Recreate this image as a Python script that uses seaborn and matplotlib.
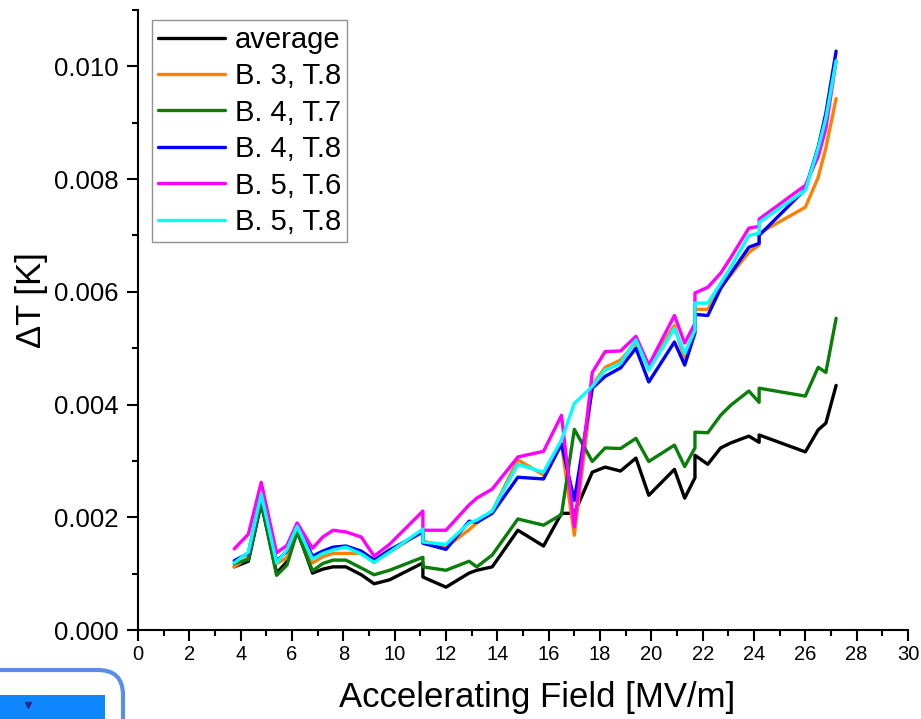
import numpy as np
import pandas as pd
import matplotlib
matplotlib.use("Agg")
import matplotlib.pyplot as plt
import seaborn as sns
from matplotlib.ticker import MultipleLocator, FormatStrFormatter
from matplotlib.patches import FancyBboxPatch, Rectangle
from matplotlib.transforms import IdentityTransform

# Accelerating field steps [MV/m] (repeated values mark restarts at the same field)
field = [3.75, 4.3, 4.8, 5.4, 5.8, 6.2, 6.8, 7.2, 7.6, 8.1, 8.7, 9.2, 9.8,
         11.1, 11.1, 12.0, 12.9, 13.2, 13.8, 14.8, 15.8, 16.5, 17.0, 17.7,
         18.2, 18.8, 19.4, 19.9, 20.9, 21.3, 21.7, 21.7, 22.2, 22.7, 23.1,
         23.8, 24.2, 24.2, 26.0, 26.5, 26.8, 27.2]

# Temperature rise [K] per sensor
average = [0.00112, 0.00122, 0.00225, 0.00101, 0.00121, 0.00177, 0.00101,
           0.00108, 0.00112, 0.00112, 0.00098, 0.00082, 0.00089, 0.00119,
           0.00094, 0.00076, 0.00101, 0.00106, 0.00112, 0.00177, 0.00149,
           0.00207, 0.00207, 0.00280, 0.00289, 0.00282, 0.00305, 0.00239,
           0.00285, 0.00234, 0.00270, 0.00310, 0.00294, 0.00323, 0.00332,
           0.00344, 0.00333, 0.00346, 0.00316, 0.00355, 0.00367, 0.00434]
b3_t8 = [0.00112, 0.00129, 0.00236, 0.00118, 0.00128, 0.00182, 0.00119,
         0.00130, 0.00136, 0.00136, 0.00136, 0.00120, 0.00138, 0.00175,
         0.00158, 0.00147, 0.00178, 0.00190, 0.00211, 0.00302, 0.00275,
         0.00330, 0.00168, 0.00434, 0.00466, 0.00479, 0.00510, 0.00470,
         0.00540, 0.00480, 0.00535, 0.00569, 0.00569, 0.00608, 0.00630,
         0.00670, 0.00683, 0.00704, 0.00750, 0.00803, 0.00855, 0.00943]
b4_t7 = [0.00118, 0.00125, 0.00228, 0.00097, 0.00115, 0.00174, 0.00105,
         0.00118, 0.00124, 0.00124, 0.00110, 0.00098, 0.00106, 0.00129,
         0.00112, 0.00106, 0.00122, 0.00112, 0.00133, 0.00197, 0.00186,
         0.00205, 0.00356, 0.00299, 0.00323, 0.00322, 0.00340, 0.00299,
         0.00328, 0.00290, 0.00323, 0.00351, 0.00350, 0.00381, 0.00399,
         0.00424, 0.00404, 0.00429, 0.00415, 0.00466, 0.00457, 0.00553]
b4_t8 = [0.00123, 0.00136, 0.00240, 0.00122, 0.00140, 0.00187, 0.00131,
         0.00140, 0.00147, 0.00149, 0.00140, 0.00124, 0.00142, 0.00174,
         0.00154, 0.00143, 0.00193, 0.00191, 0.00207, 0.00271, 0.00268,
         0.00330, 0.00230, 0.00429, 0.00450, 0.00465, 0.00500, 0.00440,
         0.00511, 0.00470, 0.00527, 0.00560, 0.00558, 0.00606, 0.00633,
         0.00679, 0.00686, 0.00700, 0.00782, 0.00857, 0.00917, 0.01027]
b5_t6 = [0.00144, 0.00170, 0.00262, 0.00137, 0.00150, 0.00190, 0.00145,
         0.00165, 0.00177, 0.00174, 0.00165, 0.00131, 0.00152, 0.00211,
         0.00177, 0.00177, 0.00222, 0.00234, 0.00250, 0.00307, 0.00317,
         0.00381, 0.00183, 0.00457, 0.00494, 0.00495, 0.00521, 0.00470,
         0.00558, 0.00509, 0.00544, 0.00598, 0.00608, 0.00633, 0.00661,
         0.00713, 0.00716, 0.00729, 0.00789, 0.00840, 0.00890, 0.01010]
b5_t8 = [0.00119, 0.00138, 0.00241, 0.00119, 0.00142, 0.00184, 0.00126,
         0.00136, 0.00142, 0.00147, 0.00135, 0.00120, 0.00138, 0.00179,
         0.00156, 0.00152, 0.00190, 0.00195, 0.00211, 0.00294, 0.00280,
         0.00337, 0.00402, 0.00432, 0.00461, 0.00473, 0.00515, 0.00461,
         0.00535, 0.00491, 0.00532, 0.00580, 0.00580, 0.00615, 0.00644,
         0.00700, 0.00704, 0.00723, 0.00780, 0.00855, 0.00908, 0.01010]

series_names = ["average", "B. 3, T.8", "B. 4, T.7", "B. 4, T.8", "B. 5, T.6", "B. 5, T.8"]
series_values = [average, b3_t8, b4_t7, b4_t8, b5_t6, b5_t8]
colors = ["#000000", "#FF8000", "#0A7D0A", "#0000FF", "#FF00FF", "#00FFFF"]

frames = []
for name, vals in zip(series_names, series_values):
    frames.append(pd.DataFrame({"field": field, "dT": vals, "sensor": name}))
df = pd.concat(frames, ignore_index=True)

sns.set_theme(style="ticks")
plt.rcParams["font.family"] = ["Liberation Sans", "DejaVu Sans"]
plt.rcParams.update({"text.color": "black", "axes.labelcolor": "black",
                     "xtick.color": "black", "ytick.color": "black",
                     "xtick.labelcolor": "black", "ytick.labelcolor": "black"})

W, H = 921, 719
fig = plt.figure(figsize=(W / 100, H / 100), dpi=100)
ax = fig.add_axes([138 / W, (H - 630) / H, 770 / W, 620 / H])

sns.lineplot(data=df, x="field", y="dT", hue="sensor", hue_order=series_names,
             palette=dict(zip(series_names, colors)), estimator=None,
             sort=False, units="sensor", linewidth=2.4, ax=ax)

ax.set_xlim(0, 30)
ax.set_ylim(0, 0.011)
ax.xaxis.set_major_locator(MultipleLocator(2))
ax.xaxis.set_minor_locator(MultipleLocator(1))
ax.yaxis.set_major_locator(MultipleLocator(0.002))
ax.yaxis.set_minor_locator(MultipleLocator(0.001))
ax.yaxis.set_major_formatter(FormatStrFormatter("%.3f"))
ax.tick_params(axis="both", which="major", direction="out", length=8, width=1.5,
               color="black", labelcolor="black")
ax.tick_params(axis="both", which="minor", direction="out", length=4, width=1.5,
               color="black")
ax.tick_params(axis="x", which="major", labelsize=14.5, pad=3)
ax.tick_params(axis="y", which="major", labelsize=18.5, pad=6)

for side in ["top", "right"]:
    ax.spines[side].set_visible(False)
for side in ["left", "bottom"]:
    ax.spines[side].set_linewidth(1.5)
    ax.spines[side].set_color("black")

ax.set_xlabel("Accelerating Field [MV/m]", fontsize=25, color="black")
ax.set_ylabel("ΔT [K]", fontsize=25, color="black")
ax.xaxis.set_label_coords(0.518, -0.082)
ax.yaxis.set_label_coords(-0.117, 0.532)

leg = ax.legend(loc="upper left", bbox_to_anchor=(0.018, 0.984),
                borderaxespad=0, fontsize=21, frameon=True, fancybox=False,
                handlelength=2.3, handletextpad=0.34, labelspacing=0.29,
                borderpad=0.2, title=None)
leg.get_frame().set_edgecolor("#777777")
leg.get_frame().set_linewidth(1.0)
for text in leg.get_texts():
    text.set_color("black")
for line in leg.get_lines():
    line.set_linewidth(2.4)

# Blue panel in the lower-left corner
fig.add_artist(FancyBboxPatch((-40, -41), 163, 90,
                              boxstyle="round,pad=0,rounding_size=25",
                              ec="#5a8ee6", fc="none", lw=3,
                              transform=IdentityTransform()))
fig.add_artist(Rectangle((0, 0), 105, 24, fc="#0f87ff", ec="none",
                         transform=IdentityTransform()))
fig.add_artist(plt.Line2D([28], [14], marker="v", markersize=4, color="#2a2a8a",
                          transform=IdentityTransform()))

fig.savefig("out.png", dpi=100)
